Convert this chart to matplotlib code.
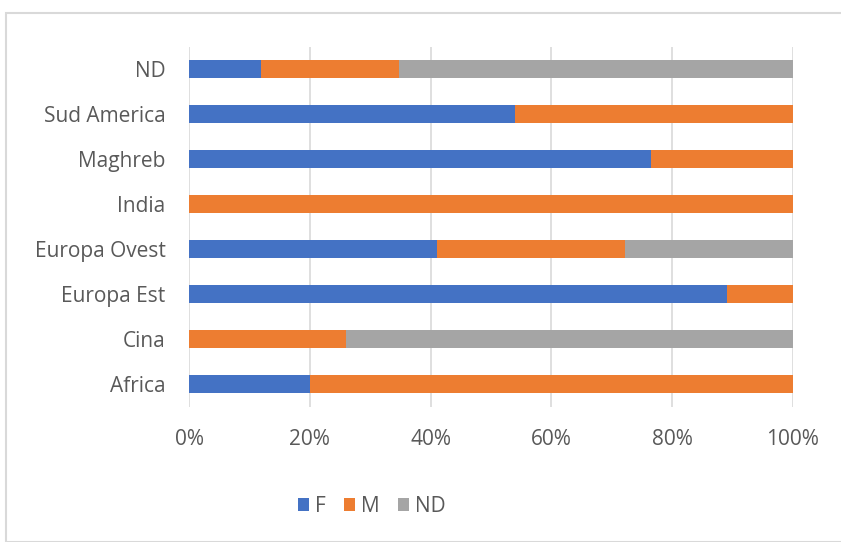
import matplotlib.pyplot as plt
import numpy as np
from matplotlib.patches import Rectangle

# Data (shares, bottom to top)
categories = ['Africa', 'Cina', 'Europa Est', 'Europa Ovest', 'India', 'Maghreb', 'Sud America', 'ND']
f_share = [20.0, 0.0, 89.0, 41.0, 0.0, 76.5, 54.0, 12.0]
m_share = [80.0, 26.0, 11.0, 31.2, 100.0, 23.5, 46.0, 22.8]
nd_share = [0.0, 74.0, 0.0, 27.8, 0.0, 0.0, 0.0, 65.2]
series_names = ['F', 'M', 'ND']
colors = ['#4472C4', '#ED7D31', '#A5A5A5']
text_color = '#595959'

plt.rcParams['font.family'] = ['Open Sans', 'DejaVu Sans']

W, H = 841, 542
fig = plt.figure(figsize=(W / 100, H / 100), dpi=100)
ax = fig.add_axes([189 / W, (H - 406.5) / H, 604 / W, 360 / H])

y = np.arange(len(categories))
left = np.zeros(len(categories))
for vals, name, c in zip([f_share, m_share, nd_share], series_names, colors):
    vals = np.array(vals)
    ax.barh(y, vals, left=left, height=0.4, color=c, label=name)
    left += vals

ax.set_xlim(0, 100)
ax.set_ylim(-0.5, len(categories) - 0.5)
ax.set_xticks(np.arange(0, 101, 20))
ax.set_xticklabels([f'{v}%' for v in range(0, 101, 20)])
ax.set_yticks(y)
ax.set_yticklabels(categories)
ax.grid(axis='x', color='#D9D9D9', linewidth=1.2)
ax.set_axisbelow(True)
for s in ax.spines.values():
    s.set_visible(False)
ax.tick_params(axis='both', length=0, labelsize=15, colors=text_color)
ax.tick_params(axis='x', pad=16)
ax.tick_params(axis='y', pad=17)

leg = fig.legend(loc='center', bbox_to_anchor=(372 / W, (H - 506) / H), ncol=3,
                 frameon=False, fontsize=15, handlelength=0.5, handleheight=0.6,
                 handletextpad=0.3, columnspacing=0.9, labelcolor=text_color)

# chart border
fig.patches.append(Rectangle((6 / W, 0), 1.0, (H - 13) / H, transform=fig.transFigure,
                             fill=False, edgecolor='#D9D9D9', linewidth=1.5))

fig.savefig('out.png', dpi=100)
